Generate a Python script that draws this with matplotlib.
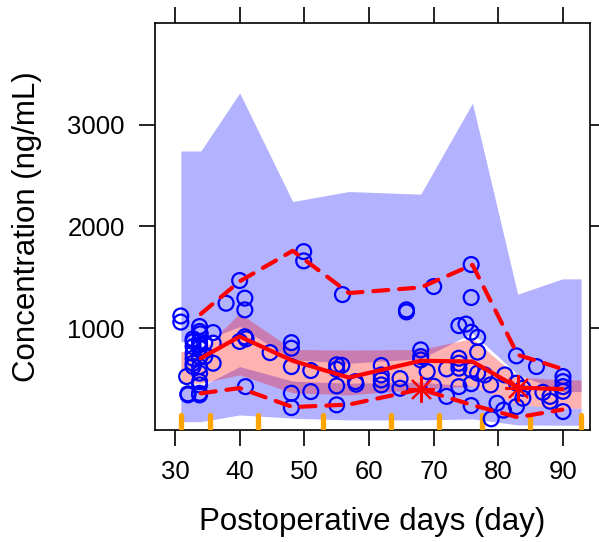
import matplotlib
matplotlib.use('Agg')
import matplotlib.pyplot as plt

plt.rcParams['font.family'] = ['Liberation Sans', 'DejaVu Sans']

# ---- observed data (day, concentration) ----
obs_day = [30.9, 30.9, 31.8, 32.0, 32.0,
           32.8, 32.8, 32.8, 32.8, 32.8, 32.8, 32.8,
           33.8, 33.8, 33.9, 33.8, 33.8, 33.8, 33.8, 33.8, 33.8, 33.8, 33.8, 33.8, 33.8,
           34.6, 34.6,
           35.9, 35.9, 35.9, 37.9, 40.0, 40.8, 40.8, 40.0, 40.8, 41.0, 40.9,
           44.7, 48.0, 48.0, 48.0, 48.0, 48.0, 49.9, 49.9, 51.0, 51.0,
           55.0, 55.8, 55.0, 55.0, 55.0, 55.9, 57.9, 58.0,
           61.9, 61.9, 61.9, 61.9,
           64.8, 64.8, 65.8, 65.8, 68.0, 68.0, 68.0, 69.0, 70.0, 70.0,
           72.0, 72.0, 73.9, 75.0, 73.9, 73.9, 73.9, 73.9,
           75.8, 75.8, 75.8, 76.8, 76.8, 75.8, 76.8, 75.8, 75.8,
           77.9, 78.8, 78.9, 79.8, 80.8, 81.0,
           82.8, 82.8, 83.8, 83.8, 82.8,
           85.9, 86.9, 88.0, 88.0,
           90.0, 90.0, 90.0, 90.0, 90.0]
obs_conc = [1120, 1060, 525, 355, 345,
            895, 868, 819, 754, 705, 656, 623,
            1016, 967, 944, 868, 836, 803, 721, 623, 558, 475, 443, 361, 345,
            853, 721,
            957, 853, 656, 1245, 1468, 1295, 1180, 870, 915, 895, 426,
            760, 858, 803, 623, 361, 220, 1752, 1661, 584, 377,
            640, 635, 595, 433, 247, 1330, 475, 450,
            633, 541, 492, 443,
            505, 410, 1180, 1160, 787, 721, 688, 574, 1409, 430,
            600, 330, 1025, 1040, 705, 656, 607, 426,
            1625, 1301, 960, 910, 765, 590, 558, 455, 240,
            541, 443, 110, 263, 195, 541,
            728, 460, 410, 312, 230,
            623, 370, 330, 283,
            525, 475, 426, 380, 181]

# ---- binning / VPC summaries ----
bin_edges = [30.9, 35.4, 42.9, 52.9, 63.4, 70.9, 77.5, 84.9, 92.8]
ci_x = [30.9, 34.0, 40.0, 48.2, 56.9, 68.0, 76.0, 83.0, 89.9, 92.8]
p95_ci_hi = [2740, 2740, 3310, 2244, 2342, 2316, 3210, 1334, 1484, 1484]
p95_ci_lo = [868, 868, 1016, 690, 656, 700, 951, 545, 377, 377]
med_ci_hi = [770, 770, 1147, 790, 786, 790, 900, 520, 492, 492]
med_ci_lo = [460, 460, 541, 365, 345, 400, 430, 250, 214, 214]
p05_ci_hi = [426, 426, 623, 480, 460, 470, 430, 250, 214, 214]
p05_ci_lo = [82, 82, 148, 116, 99, 99, 109, 50, 47, 47]

bin_mid = [34.0, 40.0, 48.2, 56.9, 68.0, 76.0, 83.0, 89.9]
obs_median = [705, 918, 680, 515, 680, 672, 417, 401]
obs_p95 = [1140, 1460, 1760, 1345, 1400, 1622, 738, 600]
obs_p05 = [360, 412, 225, 250, 400, 245, 125, 200]
flag_day = [68.0, 83.0]
flag_conc = [400, 417]

fig = plt.figure(figsize=(5.99, 5.42), dpi=100)
ax = fig.add_axes([154.5 / 599, 1 - 430 / 542, (589.5 - 154.5) / 599, (430 - 22.7) / 542])

ax.fill_between(ci_x, p95_ci_lo, p95_ci_hi, color='blue', alpha=0.3, linewidth=0, zorder=1)
ax.fill_between(ci_x, p05_ci_lo, p05_ci_hi, color='blue', alpha=0.3, linewidth=0, zorder=1)
ax.fill_between(ci_x, med_ci_lo, med_ci_hi, color='red', alpha=0.3, linewidth=0, zorder=2)

for e in bin_edges:
    ax.plot([e, e], [0.004, 0.036], color='#FFA500', lw=3.8, solid_capstyle='round',
            transform=ax.get_xaxis_transform(), zorder=3)

ax.scatter(obs_day, obs_conc, s=115, facecolors='none', edgecolors='#0000FF',
           linewidths=1.6, zorder=4)

ax.plot(bin_mid, obs_median, color='#FF0000', lw=3.0, zorder=5, solid_capstyle='round')
for series in (obs_p95, obs_p05):
    ax.plot(bin_mid, series, color='#FF0000', lw=3.0, zorder=5,
            dashes=(3.6, 2.6), dash_capstyle='round')
ax.plot(flag_day, flag_conc, linestyle='none', marker=(8, 2, 0), markersize=19,
        markeredgecolor='#FF0000', markeredgewidth=1.5, color='#FF0000', zorder=6)

ax.set_xlim(26.83, 94.1)
ax.set_ylim(0, 4000)
ax.set_xticks([30, 40, 50, 60, 70, 80, 90])
ax.set_yticks([1000, 2000, 3000])
ax.tick_params(direction='out', length=11.5, width=1.2, top=True, right=True,
               labelsize=18.5, pad=10)
for sp in ax.spines.values():
    sp.set_linewidth(1.2)

ax.set_xlabel('Postoperative days (day)', fontsize=22.5, labelpad=17)
ax.set_ylabel('Concentration (ng/mL)', fontsize=22.5, labelpad=18)

fig.savefig('out.png', dpi=100)
